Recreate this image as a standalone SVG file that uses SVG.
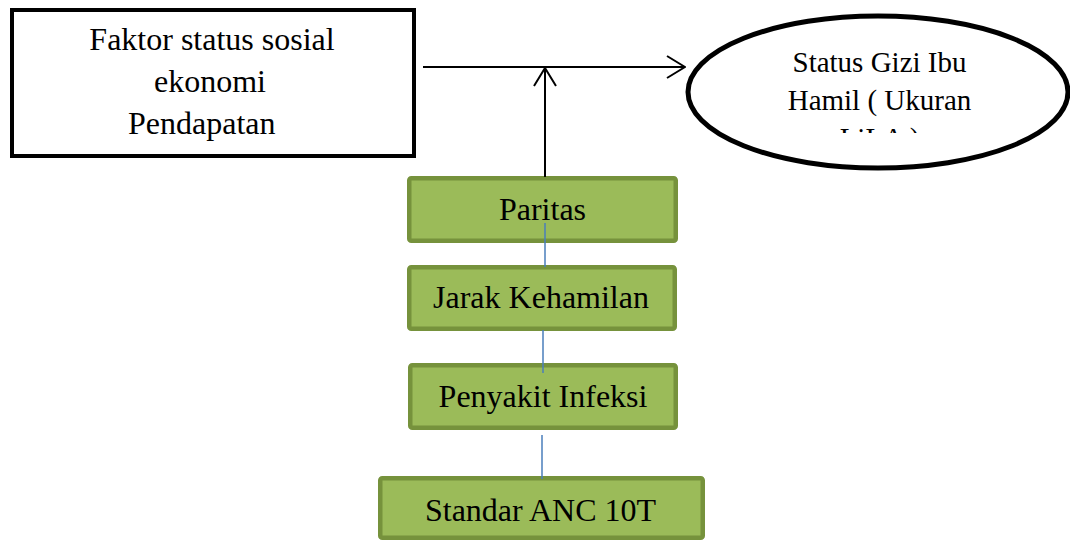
<svg xmlns="http://www.w3.org/2000/svg" width="1070" height="540" viewBox="0 0 1070 540">
  <style>
    .t { font-family: "Liberation Serif", "Times New Roman", serif; fill: #000; }
    .box { fill: #fff; stroke: #000; stroke-width: 4; }
    .green { fill: #9BBB59; stroke: #76923C; stroke-width: 4.5; }
    .blk { stroke: #000; stroke-width: 2; fill: none; }
    .blue { stroke: #4A7EBB; stroke-width: 1.5; fill: none; }
  </style>
  <defs>
    <marker id="arr" viewBox="0 0 20 24" refX="19" refY="12" markerWidth="20" markerHeight="24" markerUnits="userSpaceOnUse" orient="auto">
      <path d="M1,1 L19,12 L1,23" fill="none" stroke="#000" stroke-width="2"/>
    </marker>
    <clipPath id="clipLine3">
      <rect x="700" y="0" width="370" height="133"/>
    </clipPath>
  </defs>

  <g id="node-faktor">
    <rect class="box" x="12" y="10" width="402" height="146"/>
    <text class="t" font-size="32" text-anchor="middle" x="212" y="50">Faktor status sosial</text>
    <text class="t" font-size="32" text-anchor="middle" x="210" y="92">ekonomi</text>
    <text class="t" font-size="32" x="128" y="134">Pendapatan</text>
  </g>

  <g id="node-status-gizi">
    <ellipse cx="878" cy="92" rx="190" ry="76" fill="#fff" stroke="#000" stroke-width="5"/>
    <text class="t" font-size="29" text-anchor="middle" x="879.5" y="72">Status Gizi Ibu</text>
    <text class="t" font-size="29" text-anchor="middle" x="879.5" y="110">Hamil ( Ukuran</text>
    <text class="t" font-size="29" text-anchor="middle" x="879.5" y="148" clip-path="url(#clipLine3)">LiLA )</text>
  </g>

  <g id="node-paritas">
    <rect class="green" x="409.25" y="178.25" width="266.5" height="62.5" rx="2"/>
    <text class="t" font-size="32" text-anchor="middle" x="542.5" y="220">Paritas</text>
  </g>

  <g id="node-jarak">
    <rect class="green" x="409.25" y="267.25" width="265.5" height="61.5" rx="2"/>
    <text class="t" font-size="32" text-anchor="middle" x="541" y="308">Jarak Kehamilan</text>
  </g>

  <g id="node-penyakit">
    <rect class="green" x="410.25" y="365.25" width="265.5" height="62.5" rx="2"/>
    <text class="t" font-size="32" text-anchor="middle" x="543" y="407">Penyakit Infeksi</text>
  </g>

  <g id="node-standar">
    <rect class="green" x="380.25" y="478.25" width="322.5" height="59.5" rx="2"/>
    <text class="t" font-size="32" text-anchor="middle" x="540.5" y="521">Standar ANC 10T</text>
  </g>

  <g id="connectors">
    <line class="blk" x1="423" y1="67" x2="685" y2="67" marker-end="url(#arr)"/>
    <line class="blk" x1="545" y1="177" x2="545" y2="68" marker-end="url(#arr)"/>
    <line class="blue" x1="545" y1="223" x2="545" y2="267"/>
    <line class="blue" x1="543" y1="330" x2="543" y2="373"/>
    <line class="blue" x1="542" y1="435" x2="542" y2="479"/>
  </g>
</svg>
